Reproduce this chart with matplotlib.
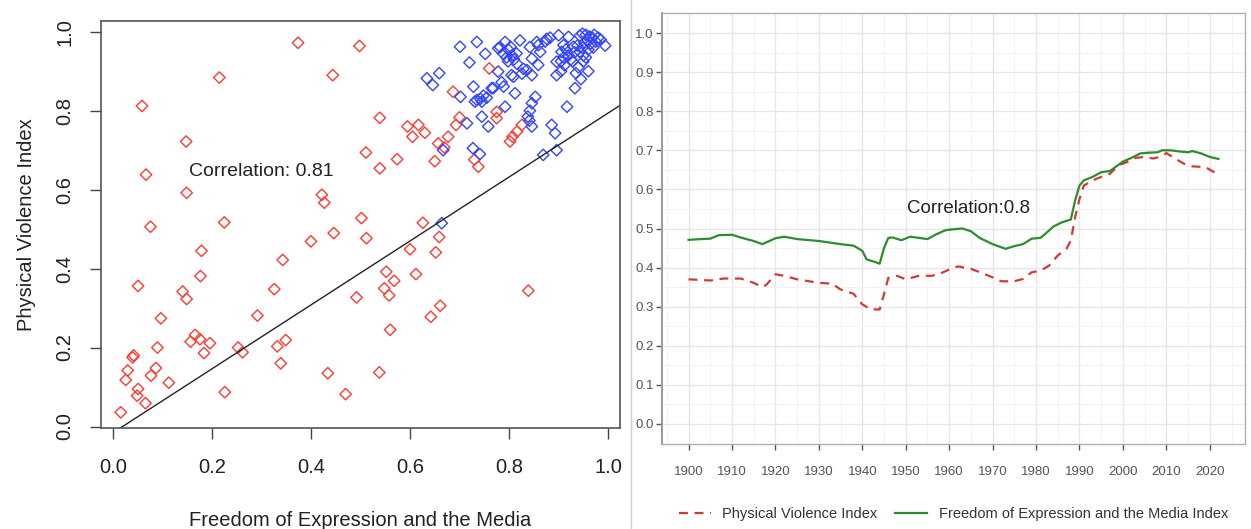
import matplotlib
matplotlib.use("Agg")
import matplotlib.pyplot as plt
from matplotlib.lines import Line2D
from matplotlib.ticker import MultipleLocator

plt.rcParams['font.family'] = ['Liberation Sans', 'DejaVu Sans']

# scatter: countries below / above the freedom threshold
red_x = [0.374, 0.498, 0.215, 0.444, 0.760, 0.059, 0.148, 0.687, 0.539, 0.595,
         0.617, 0.605, 0.630, 0.700, 0.693, 0.677, 0.657, 0.669, 0.650, 0.730,
         0.738, 0.775, 0.775, 0.826, 0.816, 0.807, 0.802, 0.511, 0.574, 0.539,
         0.067, 0.149, 0.422, 0.427, 0.076, 0.225, 0.502, 0.626, 0.400, 0.446,
         0.512, 0.659, 0.600, 0.652, 0.179, 0.051, 0.177, 0.141, 0.149, 0.343,
         0.326, 0.552, 0.568, 0.612, 0.548, 0.558, 0.492, 0.839, 0.661, 0.642,
         0.097, 0.292, 0.560, 0.166, 0.157, 0.176, 0.196, 0.184, 0.090, 0.253,
         0.262, 0.332, 0.349, 0.339, 0.042, 0.040, 0.030, 0.026, 0.087, 0.077,
         0.113, 0.051, 0.049, 0.066, 0.016, 0.226, 0.434, 0.538, 0.470]
red_y = [0.972, 0.964, 0.884, 0.890, 0.907, 0.812, 0.722, 0.848, 0.782, 0.760,
         0.764, 0.734, 0.744, 0.783, 0.764, 0.734, 0.717, 0.707, 0.672, 0.676,
         0.658, 0.797, 0.781, 0.764, 0.747, 0.734, 0.722, 0.694, 0.677, 0.654,
         0.638, 0.592, 0.587, 0.567, 0.506, 0.517, 0.528, 0.516, 0.469, 0.490,
         0.477, 0.480, 0.449, 0.441, 0.445, 0.356, 0.381, 0.342, 0.323, 0.422,
         0.348, 0.392, 0.369, 0.386, 0.350, 0.332, 0.327, 0.344, 0.306, 0.278,
         0.274, 0.281, 0.245, 0.232, 0.215, 0.221, 0.211, 0.186, 0.200, 0.200,
         0.188, 0.203, 0.219, 0.160, 0.180, 0.175, 0.142, 0.118, 0.148, 0.129,
         0.111, 0.095, 0.078, 0.059, 0.036, 0.087, 0.135, 0.137, 0.082]

blue_x = [0.664, 0.667, 0.727, 0.741, 0.869, 0.896, 0.715, 0.745, 0.758, 0.846,
          0.886, 0.893, 0.792, 0.917, 0.846, 0.842, 0.838, 0.841, 0.731, 0.742,
          0.748, 0.755, 0.812, 0.853, 0.702, 0.728, 0.765, 0.789, 0.785, 0.933,
          0.634, 0.659, 0.646, 0.720, 0.778, 0.805, 0.826, 0.836, 0.846, 0.859,
          0.829, 0.816, 0.809, 0.896, 0.905, 0.896, 0.912, 0.925, 0.940, 0.935,
          0.950, 0.955, 0.945, 0.960, 0.701, 0.735, 0.752, 0.778, 0.782, 0.792,
          0.799, 0.806, 0.795, 0.810, 0.798, 0.822, 0.842, 0.856, 0.846, 0.863,
          0.876, 0.883, 0.900, 0.906, 0.915, 0.920, 0.910, 0.928, 0.905, 0.932,
          0.920, 0.943, 0.948, 0.955, 0.962, 0.958, 0.952, 0.968, 0.965, 0.975,
          0.985, 0.994, 0.943, 0.948, 0.938, 0.960, 0.970, 0.950, 0.873, 0.910,
          0.859, 0.735, 0.745, 0.768, 0.815, 0.788, 0.803, 0.972, 0.980, 0.930]
blue_y = [0.515, 0.700, 0.705, 0.690, 0.688, 0.700, 0.768, 0.785, 0.760, 0.760,
          0.764, 0.743, 0.810, 0.810, 0.819, 0.800, 0.785, 0.775, 0.823, 0.830,
          0.838, 0.833, 0.844, 0.835, 0.835, 0.861, 0.857, 0.861, 0.872, 0.857,
          0.882, 0.895, 0.865, 0.922, 0.899, 0.890, 0.894, 0.903, 0.890, 0.916,
          0.906, 0.919, 0.886, 0.890, 0.900, 0.924, 0.915, 0.930, 0.910, 0.895,
          0.925, 0.935, 0.880, 0.900, 0.962, 0.974, 0.944, 0.958, 0.961, 0.974,
          0.954, 0.940, 0.935, 0.930, 0.925, 0.978, 0.961, 0.974, 0.932, 0.949,
          0.982, 0.985, 0.991, 0.949, 0.955, 0.940, 0.935, 0.925, 0.925, 0.948,
          0.987, 0.990, 0.995, 0.992, 0.988, 0.980, 0.972, 0.985, 0.970, 0.975,
          0.980, 0.965, 0.949, 0.960, 0.965, 0.955, 0.960, 0.940, 0.975, 0.966,
          0.966, 0.827, 0.823, 0.857, 0.945, 0.945, 0.962, 0.992, 0.985, 0.962]

fit_slope = 0.81
fit_intercept = -0.016

# time series
years_violence = [1900, 1905, 1908, 1912, 1915, 1917, 1918, 1920, 1922, 1925,
                  1930, 1933, 1935, 1938, 1940, 1942, 1944, 1945, 1946, 1948,
                  1950, 1953, 1956, 1958, 1960, 1962, 1965, 1968, 1970, 1972,
                  1975, 1977, 1979, 1981, 1983, 1985, 1987, 1988, 1989, 1990,
                  1991, 1993, 1995, 1997, 1999, 2001, 2003, 2005, 2007, 2009,
                  2010, 2012, 2014, 2016, 2019, 2021, 2022]
violence = [0.370, 0.367, 0.372, 0.372, 0.361, 0.350, 0.357, 0.383, 0.379, 0.370,
            0.361, 0.359, 0.344, 0.333, 0.306, 0.293, 0.293, 0.332, 0.374, 0.379,
            0.370, 0.379, 0.379, 0.385, 0.395, 0.403, 0.397, 0.384, 0.375, 0.365,
            0.365, 0.371, 0.388, 0.392, 0.405, 0.431, 0.448, 0.469, 0.529, 0.576,
            0.610, 0.623, 0.632, 0.640, 0.662, 0.670, 0.681, 0.683, 0.679, 0.685,
            0.693, 0.679, 0.666, 0.659, 0.657, 0.644, 0.632]

years_freedom = [1900, 1903, 1905, 1907, 1910, 1912, 1915, 1917, 1920, 1922,
                 1925, 1930, 1935, 1938, 1940, 1941, 1943, 1944, 1945, 1946,
                 1947, 1949, 1951, 1955, 1957, 1959, 1960, 1963, 1965, 1967,
                 1970, 1972, 1973, 1975, 1977, 1979, 1981, 1982, 1984, 1986,
                 1988, 1989, 1990, 1991, 1993, 1995, 1997, 1998, 2000, 2002,
                 2004, 2006, 2008, 2009, 2011, 2013, 2015, 2016, 2018, 2020, 2022]
freedom = [0.471, 0.473, 0.474, 0.483, 0.484, 0.477, 0.468, 0.460, 0.475, 0.479,
           0.473, 0.468, 0.460, 0.456, 0.443, 0.421, 0.414, 0.410, 0.450, 0.476,
           0.477, 0.470, 0.479, 0.473, 0.485, 0.495, 0.497, 0.500, 0.493, 0.476,
           0.460, 0.452, 0.448, 0.455, 0.460, 0.474, 0.476, 0.485, 0.505, 0.516,
           0.523, 0.572, 0.610, 0.623, 0.632, 0.644, 0.647, 0.655, 0.671, 0.681,
           0.692, 0.694, 0.695, 0.700, 0.700, 0.697, 0.695, 0.698, 0.692, 0.683, 0.678]

fig = plt.figure(figsize=(12.51, 5.29), dpi=100)

# ---- left: scatter ----
ax1 = fig.add_axes([0.0807, 0.1915, 0.4149, 0.7694])
ax1.scatter(red_x, red_y, marker='D', s=34, facecolors='none',
            edgecolors='#ff3a30', linewidths=1.0)
ax1.scatter(blue_x, blue_y, marker='D', s=34, facecolors='none',
            edgecolors='#3344ff', linewidths=1.0)
ax1.axline((0, fit_intercept), slope=fit_slope, color='#222222', lw=1.0)
ax1.text(0.30, 0.645, 'Correlation: 0.81', ha='center', va='center',
         fontsize=14, color='#222222')
ax1.set_xlim(-0.024, 1.024)
ax1.set_ylim(-0.003, 1.028)
ax1.set_xticks([0, 0.2, 0.4, 0.6, 0.8, 1.0])
ax1.set_yticks([0, 0.2, 0.4, 0.6, 0.8, 1.0])
ax1.set_xticklabels(['0.0', '0.2', '0.4', '0.6', '0.8', '1.0'])
ax1.set_yticklabels(['0.0', '0.2', '0.4', '0.6', '0.8', '1.0'])
for l in ax1.get_yticklabels():
    l.set_rotation(90)
    l.set_va('center')
ax1.tick_params(length=8, width=1.0, color='#444444', labelsize=14.5,
                labelcolor='#222222')
ax1.tick_params(axis='x', pad=14)
ax1.tick_params(axis='y', pad=11)
for sp in ax1.spines.values():
    sp.set_color('#555555')
    sp.set_linewidth(1.2)
ax1.set_xlabel('Freedom of Expression and the Media', fontsize=14.5,
               color='#222222', labelpad=24)
ax1.set_ylabel('Physical Violence Index', fontsize=14.5, color='#222222',
               labelpad=14)

# ---- right: time series ----
ax2 = fig.add_axes([0.5292, 0.1616, 0.4660, 0.8129])
ax2.plot(years_violence, violence, color='#d23a35', lw=1.6, dashes=(4, 3),
         label='Physical Violence Index')
ax2.plot(years_freedom, freedom, color='#2e8b2e', lw=1.6,
         label='Freedom of Expression and the Media Index')
ax2.text(1964.5, 0.55, 'Correlation:0.8', ha='center', va='center',
         fontsize=13.5, color='#222222')
ax2.set_xlim(1893.9, 2028.1)
ax2.set_ylim(-0.05, 1.05)
ax2.set_xticks(range(1900, 2021, 10))
ax2.set_yticks([i / 10 for i in range(11)])
ax2.set_yticklabels(['%.1f' % (i / 10) for i in range(11)])
ax2.xaxis.set_minor_locator(MultipleLocator(5))
ax2.yaxis.set_minor_locator(MultipleLocator(0.05))
ax2.grid(which='major', color='#e6e6e6', lw=1.0)
ax2.grid(which='minor', color='#f2f2f2', lw=0.7)
ax2.set_axisbelow(True)
ax2.tick_params(which='minor', length=0)
ax2.tick_params(which='major', length=4, width=1.0, color='#555555',
                labelsize=9.5, labelcolor='#555555', pad=2)
ax2.tick_params(axis='x', pad=12)
for sp in ax2.spines.values():
    sp.set_color('#b0b0b0')
    sp.set_linewidth(1.0)
ax2.spines['left'].set_color('#999999')
ax2.spines['left'].set_linewidth(1.4)
ax2.legend(loc='lower center', bbox_to_anchor=(0.5, -0.21), ncol=2,
           frameon=False, fontsize=10.5, handlelength=2.2, columnspacing=1.2,
           labelcolor='#333333')

# separator between the two panels
fig.add_artist(Line2D([0.5044, 0.5044], [0.0, 1.0], color='#d0d0d0', lw=1.0))

fig.savefig('out.png', dpi=100)
